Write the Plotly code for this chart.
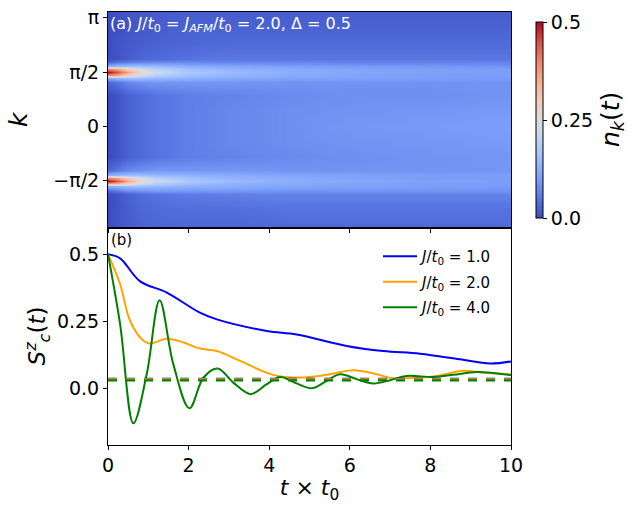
import plotly.graph_objects as go
import math

# ---------------- data: heatmap n_k(t) ----------------
t_grid = [0, 0.25, 0.5, 0.8, 1.2, 2, 3, 4.5, 6, 8, 10]
k_grid = [-2.93, -2.4, -1.95, -1.87, -1.74, -1.65, -1.571, -1.49, -1.40, -1.27,
          -0.9, -0.45, 0.0, 0.45, 0.9,
          1.27, 1.40, 1.49, 1.571, 1.65, 1.74, 1.87, 1.95, 2.4, 2.9, 3.31]
nk_rows = [
    [0.0, 0.01, 0.02, 0.025, 0.03, 0.03, 0.03, 0.035, 0.035, 0.035, 0.035],   # -2.93
    [0.0, 0.01, 0.02, 0.03, 0.035, 0.04, 0.04, 0.045, 0.045, 0.045, 0.045],   # -2.4
    [0.0, 0.01, 0.025, 0.035, 0.045, 0.055, 0.06, 0.065, 0.065, 0.065, 0.065],  # -1.95
    [0.03, 0.05, 0.07, 0.08, 0.09, 0.09, 0.09, 0.085, 0.085, 0.085, 0.085],  # -1.87
    [0.12, 0.14, 0.15, 0.15, 0.14, 0.13, 0.12, 0.11, 0.105, 0.1, 0.095],     # -1.74
    [0.40, 0.36, 0.29, 0.24, 0.19, 0.155, 0.135, 0.12, 0.11, 0.1, 0.1],      # -1.65
    [0.5, 0.44, 0.36, 0.28, 0.22, 0.17, 0.145, 0.125, 0.115, 0.105, 0.1],    # -1.571
    [0.40, 0.36, 0.29, 0.24, 0.19, 0.155, 0.135, 0.12, 0.11, 0.1, 0.1],      # -1.49
    [0.12, 0.14, 0.15, 0.15, 0.14, 0.13, 0.12, 0.11, 0.105, 0.1, 0.1],       # -1.40
    [0.03, 0.05, 0.07, 0.08, 0.09, 0.09, 0.09, 0.085, 0.085, 0.085, 0.09],   # -1.27
    [0.0, 0.01, 0.025, 0.035, 0.045, 0.06, 0.065, 0.075, 0.08, 0.085, 0.09],  # -0.9
    [0.0, 0.01, 0.025, 0.035, 0.045, 0.06, 0.07, 0.08, 0.085, 0.09, 0.095],  # -0.45
    [0.0, 0.01, 0.025, 0.035, 0.045, 0.06, 0.07, 0.08, 0.09, 0.095, 0.1],    # 0
    [0.0, 0.01, 0.025, 0.035, 0.045, 0.06, 0.07, 0.08, 0.085, 0.09, 0.095],  # 0.45
    [0.0, 0.01, 0.025, 0.035, 0.045, 0.06, 0.065, 0.075, 0.08, 0.08, 0.085],  # 0.9
    [0.03, 0.05, 0.07, 0.08, 0.09, 0.09, 0.09, 0.085, 0.085, 0.085, 0.085],  # 1.27
    [0.12, 0.14, 0.15, 0.15, 0.14, 0.13, 0.12, 0.11, 0.105, 0.1, 0.095],     # 1.40
    [0.40, 0.36, 0.29, 0.24, 0.19, 0.155, 0.135, 0.12, 0.11, 0.1, 0.1],      # 1.49
    [0.5, 0.44, 0.36, 0.28, 0.22, 0.17, 0.145, 0.125, 0.115, 0.105, 0.1],    # 1.571
    [0.40, 0.36, 0.29, 0.24, 0.19, 0.155, 0.135, 0.12, 0.11, 0.1, 0.1],      # 1.65
    [0.12, 0.14, 0.15, 0.15, 0.14, 0.12, 0.11, 0.1, 0.095, 0.09, 0.085],     # 1.74
    [0.03, 0.05, 0.06, 0.07, 0.075, 0.075, 0.07, 0.07, 0.065, 0.065, 0.065],  # 1.87
    [0.0, 0.01, 0.02, 0.03, 0.035, 0.045, 0.05, 0.05, 0.05, 0.05, 0.05],     # 1.95
    [0.0, 0.01, 0.015, 0.02, 0.025, 0.03, 0.035, 0.035, 0.035, 0.035, 0.035],  # 2.4
    [0.0, 0.005, 0.01, 0.015, 0.02, 0.025, 0.025, 0.025, 0.025, 0.025, 0.025],  # 2.9
    [0.0, 0.005, 0.01, 0.015, 0.02, 0.02, 0.02, 0.02, 0.02, 0.02, 0.02],     # 3.31
]
k_tickvals = [-math.pi / 2, 0, math.pi / 2, math.pi]
k_ticktext = ["\u2212\u03c0/2", "0", "\u03c0/2", "\u03c0"]

# ---------------- data: S_c^z(t) ----------------
t_J1 = [0, 0.3, 0.79, 1.46, 2.28, 2.70, 3.94, 4.68, 5.92, 6.83, 7.74, 8.73, 9.48, 10.0]
s_J1 = [0.5, 0.485, 0.40, 0.357, 0.282, 0.257, 0.214, 0.201, 0.158, 0.139, 0.129, 0.108, 0.092, 0.10]

t_J2 = [0, 0.3, 0.55, 0.88, 1.04, 1.46, 1.87, 2.28, 2.70, 3.28, 4.10, 4.76, 5.42,
        6.09, 6.67, 7.08, 7.74, 8.16, 8.82, 9.31, 10.0]
s_J2 = [0.5, 0.388, 0.251, 0.177, 0.167, 0.185, 0.171, 0.148, 0.139, 0.102, 0.050, 0.040,
        0.050, 0.067, 0.052, 0.037, 0.040, 0.046, 0.065, 0.058, 0.052]

t_J4 = [0, 0.3, 0.63, 0.96, 1.28, 1.62, 2.02, 2.37, 2.72, 3.11, 3.54, 3.94, 4.27, 4.68,
        5.07, 5.42, 5.76, 6.17, 6.58, 7.00, 7.41, 8.07, 8.57, 9.15, 10.0]
s_J4 = [0.5, 0.239, -0.131, 0.052, 0.328, 0.090, -0.075, 0.040, 0.074, 0.021, -0.022,
        0.015, 0.042, 0.018, 0.0, 0.027, 0.052, 0.034, 0.018, 0.030, 0.046, 0.042,
        0.050, 0.061, 0.049]

labels = ["<i>J</i>/<i>t</i><sub>0</sub> = 1.0",
          "<i>J</i>/<i>t</i><sub>0</sub> = 2.0",
          "<i>J</i>/<i>t</i><sub>0</sub> = 4.0"]
colors = ["#0000ff", "#ffa500", "#008000"]
s_inf = [0.035, 0.033, 0.029]

coolwarm = ['#3b4cc0', '#5977e3', '#7b9ff9', '#9ebeff', '#c0d4f5', '#dddcdc',
            '#f2cbb7', '#f7ac8e', '#ee8468', '#d65244', '#b40426']

# ---------------- layout geometry ----------------
W, H = 637, 513
def px_x(p):
    return p / W
def px_y(p):
    return 1 - p / H

FONT = "DejaVu Sans"
TICK = 19

fig = go.Figure()

fig.add_trace(go.Heatmap(
    x=t_grid, y=k_grid, z=nk_rows, zsmooth="best",
    colorscale=[[i / (len(coolwarm) - 1), c] for i, c in enumerate(coolwarm)],
    zmin=0, zmax=0.5, xaxis="x", yaxis="y",
    colorbar=dict(
        x=px_x(535.5), xanchor="left", xref="paper", xpad=0, ypad=0,
        y=px_y(120), yanchor="middle", len=196 / H, lenmode="fraction",
        thickness=7, outlinecolor="black", outlinewidth=1,
        tickvals=[0, 0.25, 0.5], ticktext=["0.0", "0.25", "0.5"],
        ticks="outside", ticklen=4, tickcolor="black",
        tickfont=dict(family=FONT, size=TICK, color="black"),
    ),
    showscale=True,
))

curves = [(t_J1, s_J1), (t_J2, s_J2), (t_J4, s_J4)]
for i, ((tt, ss), lab, col) in enumerate(zip(curves, labels, colors)):
    fig.add_trace(go.Scatter(
        x=tt, y=ss, mode="lines", name=lab, legendgroup="g%d" % i,
        line=dict(color=col, width=2, shape="spline", smoothing=1.0),
        xaxis="x2", yaxis="y2",
    ))

for val, col in zip(s_inf, colors):
    fig.add_trace(go.Scatter(
        x=[0, 10], y=[val, val], mode="lines", showlegend=False,
        line=dict(color=col, width=2.2, dash="dash"),
        xaxis="x2", yaxis="y2",
    ))

axis_common = dict(showline=True, linecolor="black", linewidth=1, mirror=True,
                   ticks="outside", ticklen=4, tickcolor="black", showgrid=False,
                   zeroline=False, tickfont=dict(family=FONT, size=TICK, color="black"))

fig.update_layout(
    width=W, height=H,
    margin=dict(l=0, r=0, t=0, b=0, autoexpand=False),
    paper_bgcolor="white", plot_bgcolor="white",
    font=dict(family=FONT, color="black"),
    xaxis=dict(domain=[px_x(108), px_x(511)], range=[0, 10], anchor="y",
               showticklabels=False, tickvals=[0, 2, 4, 6, 8, 10], **axis_common),
    yaxis=dict(domain=[px_y(227.5), px_y(12)], range=[-2.93, 3.31], anchor="x",
               tickvals=k_tickvals, ticktext=k_ticktext,
               title=dict(text="<i>k</i>", font=dict(family=FONT, size=25), standoff=18),
               **axis_common),
    xaxis2=dict(domain=[px_x(108), px_x(511)], range=[0, 10], anchor="y2",
                tickvals=[0, 2, 4, 6, 8, 10],
                title=dict(text="<i>t</i> \u00d7 <i>t</i><sub>0</sub>", font=dict(family=FONT, size=22), standoff=4),
                **axis_common),
    yaxis2=dict(domain=[px_y(444.5), px_y(227.5)], range=[-0.21, 0.6], anchor="x2",
                tickvals=[0, 0.25, 0.5], ticktext=["0.0", "0.25", "0.5"],
                title=dict(text="<i>S</i><sup><i>z</i></sup><sub><i>c</i></sub>(<i>t</i>)",
                           font=dict(family=FONT, size=23), standoff=4),
                **axis_common),
    legend=dict(x=px_x(378), y=px_y(240), xanchor="left", yanchor="top",
                bgcolor="rgba(0,0,0,0)", font=dict(family=FONT, size=15),
                tracegroupgap=3, itemwidth=34),
    annotations=[
        dict(text="(a) <i>J</i>/<i>t</i><sub>0</sub> = <i>J</i><sub><i>AFM</i></sub>/<i>t</i><sub>0</sub> = 2.0, \u0394 = 0.5",
             xref="paper", yref="paper", x=px_x(108), y=px_y(12), xanchor="left", yanchor="top",
             showarrow=False, font=dict(family=FONT, size=16, color="white")),
        dict(text="(b)", xref="paper", yref="paper", x=px_x(109), y=px_y(229),
             xanchor="left", yanchor="top", showarrow=False,
             font=dict(family=FONT, size=15, color="black")),
        dict(text="<i>n</i><sub><i>k</i></sub>(<i>t</i>)", xref="paper", yref="paper",
             x=px_x(612), y=px_y(120), xanchor="center", yanchor="middle",
             textangle=-90, showarrow=False, font=dict(family=FONT, size=25, color="black")),
    ],
)

fig.write_html("out.html")
